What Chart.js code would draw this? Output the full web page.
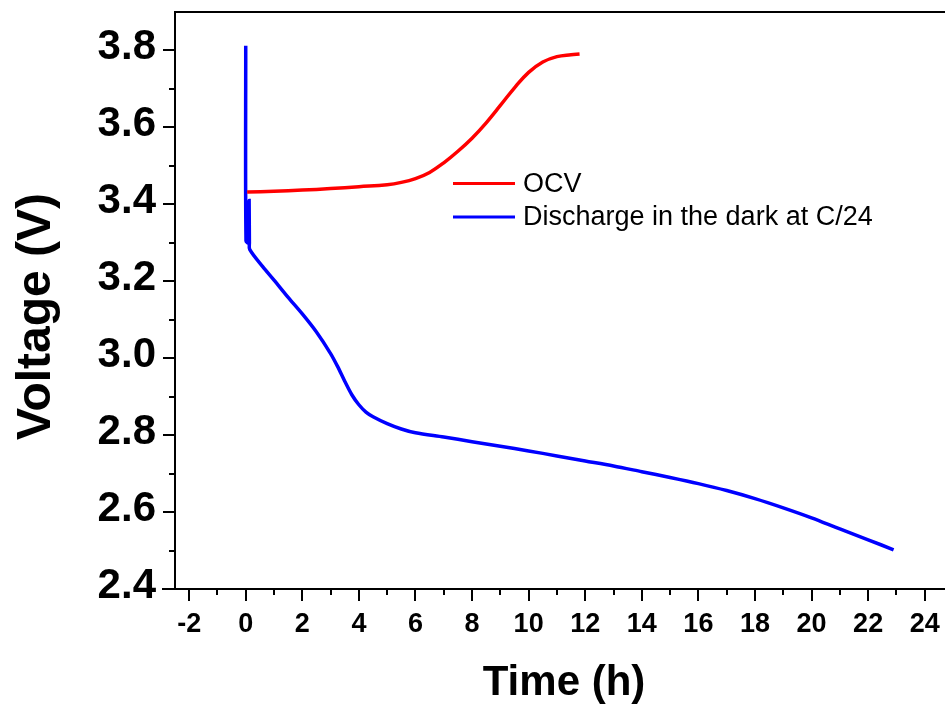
<!DOCTYPE html>
<html><head><meta charset="utf-8">
<script src="https://cdn.jsdelivr.net/npm/chart.js@4/dist/chart.umd.min.js"></script>
<style>
html,body{margin:0;padding:0;background:#fff;overflow:hidden}
#wrap{width:945px;height:706px;overflow:hidden;position:relative;background:#fff}
#c{position:absolute;left:0;top:0}
</style></head>
<body><div id="wrap"><canvas id="c" width="960" height="706" style="width:960px;height:706px"></canvas></div>
<script>
// ---- data ----
const seriesNames = ['OCV', 'Discharge in the dark at C/24'];
const ocvTime = [0.05, 1, 2, 3, 4, 5, 5.5, 6, 6.5, 7, 7.5, 8, 8.5, 9, 9.5, 10, 10.5, 11, 11.5, 11.8];
const ocvVolt = [3.432, 3.434, 3.437, 3.441, 3.446, 3.451, 3.457, 3.467, 3.483, 3.508, 3.538, 3.572, 3.612, 3.657, 3.703, 3.743, 3.770, 3.784, 3.789, 3.791];
const disTime = [0, 0.01, 0.1, 0.12, 0.13, 0.14, 0.6, 1.0, 1.5, 2, 2.5, 3, 3.25, 3.5, 3.75, 4, 4.25, 4.5, 5, 5.5, 6, 7, 8, 9, 10, 11, 12, 13, 14, 15, 16, 17, 18, 19, 20, 21, 22, 22.9];
const disVolt = [3.812, 3.305, 3.30, 3.41, 3.30, 3.283, 3.238, 3.203, 3.158, 3.115, 3.068, 3.012, 2.978, 2.94, 2.905, 2.879, 2.86, 2.848, 2.83, 2.816, 2.806, 2.795, 2.783, 2.771, 2.759, 2.746, 2.733, 2.72, 2.705, 2.69, 2.674, 2.656, 2.635, 2.611, 2.585, 2.556, 2.528, 2.502];
const xTickValues = [-2, 0, 2, 4, 6, 8, 10, 12, 14, 16, 18, 20, 22, 24];
const xMinorValues = [-1, 1, 3, 5, 7, 9, 11, 13, 15, 17, 19, 21, 23];
const yTickValues = [2.4, 2.6, 2.8, 3.0, 3.2, 3.4, 3.6, 3.8];
const yMinorValues = [2.5, 2.7, 2.9, 3.1, 3.3, 3.5, 3.7];
const xTitle = 'Time (h)';
const yTitle = 'Voltage (V)';
const colors = ['#ff0000', '#0000ff'];

const FONT = "'Liberation Sans', Arial, Helvetica, sans-serif";

const pts = (xs, ys) => xs.map((x, i) => ({x: x, y: ys[i]}));

const framePlugin = {
  id: 'frame',
  afterDraw(chart) {
    const ctx = chart.ctx, ca = chart.chartArea;
    const xs = chart.scales.x, ys = chart.scales.y;
    ctx.save();
    ctx.strokeStyle = '#000';
    ctx.lineWidth = 2;
    ctx.lineCap = 'butt';
    ctx.beginPath();
    ctx.moveTo(ca.left, ca.bottom); ctx.lineTo(ca.left, ca.top - 1);
    ctx.moveTo(ca.left - 13, ca.bottom); ctx.lineTo(ca.right, ca.bottom);
    ctx.moveTo(ca.left - 1, ca.top); ctx.lineTo(ca.right, ca.top);
    ctx.moveTo(ca.right, ca.top); ctx.lineTo(ca.right, ca.bottom);
    xTickValues.forEach(v => { const p = Math.round(xs.getPixelForValue(v)); ctx.moveTo(p, ca.bottom); ctx.lineTo(p, ca.bottom + 12); });
    xMinorValues.forEach(v => { const p = Math.round(xs.getPixelForValue(v)); ctx.moveTo(p, ca.bottom); ctx.lineTo(p, ca.bottom + 6); });
    yTickValues.forEach(v => { const p = Math.round(ys.getPixelForValue(v)); ctx.moveTo(ca.left, p); ctx.lineTo(ca.left - 12, p); });
    yMinorValues.forEach(v => { const p = Math.round(ys.getPixelForValue(v)); ctx.moveTo(ca.left, p); ctx.lineTo(ca.left - 6, p); });
    ctx.stroke();

    ctx.fillStyle = '#000';
    ctx.font = 'bold 42px ' + FONT;
    ctx.textAlign = 'center';
    ctx.textBaseline = 'alphabetic';
    ctx.fillText(xTitle, (ca.left + 953) / 2, ca.bottom + 106);
    ctx.save();
    ctx.translate(ca.left - 125, (ca.top + ca.bottom) / 2 + 16);
    ctx.rotate(-Math.PI / 2);
    ctx.font = 'bold 48px ' + FONT;
    ctx.fillText(yTitle, 0, 0);
    ctx.restore();

    ctx.font = '27px ' + FONT;
    ctx.textAlign = 'left';
    ctx.textBaseline = 'middle';
    chart.data.datasets.forEach((ds, i) => {
      const y = ca.top + 171.5 + i * 33.4;
      const x0 = ca.left + 278;
      ctx.strokeStyle = ds.borderColor;
      ctx.lineWidth = 3;
      ctx.beginPath(); ctx.moveTo(x0, y); ctx.lineTo(x0 + 62, y); ctx.stroke();
      ctx.fillStyle = '#000';
      ctx.fillText(ds.label, x0 + 70, y + 1);
    });
    ctx.restore();
  }
};

new Chart(document.getElementById('c'), {
  type: 'scatter',
  data: {
    datasets: [
      {label: seriesNames[0], data: pts(ocvTime, ocvVolt), showLine: true, borderColor: colors[0], backgroundColor: colors[0], borderWidth: 3.5, pointRadius: 0, tension: 0.4},
      {label: seriesNames[1], data: pts(disTime, disVolt), showLine: true, borderColor: colors[1], backgroundColor: colors[1], borderWidth: 3.5, pointRadius: 0, tension: 0.3}
    ]
  },
  options: {
    responsive: false,
    animation: false,
    devicePixelRatio: 1,
    layout: {padding: {top: 12, right: 7, left: 0, bottom: 0}},
    plugins: {legend: {display: false}, tooltip: {enabled: false}},
    scales: {
      x: {
        type: 'linear', min: -2.5, max: 25,
        afterBuildTicks: s => { s.ticks = xTickValues.map(v => ({value: v})); },
        afterFit: s => { s.height = 117; s.paddingLeft = 0; s.paddingRight = 0; },
        grid: {display: false, drawTicks: false},
        border: {display: false},
        ticks: {color: '#000', font: {family: FONT, size: 27, weight: 'bold'}, padding: 19, maxRotation: 0, autoSkip: false,
                callback: v => String(v)}
      },
      y: {
        type: 'linear', min: 2.4, max: 3.9,
        afterBuildTicks: s => { s.ticks = yTickValues.map(v => ({value: v})); },
        afterFit: s => { s.width = 175; s.paddingTop = 0; s.paddingBottom = 0; },
        grid: {display: false, drawTicks: false},
        border: {display: false},
        ticks: {color: '#000', font: {family: FONT, size: 42, weight: 'bold'}, padding: 19, labelOffset: -3, autoSkip: false,
                callback: v => Number(v).toFixed(1)}
      }
    }
  },
  plugins: [framePlugin]
});
</script>
</body></html>
